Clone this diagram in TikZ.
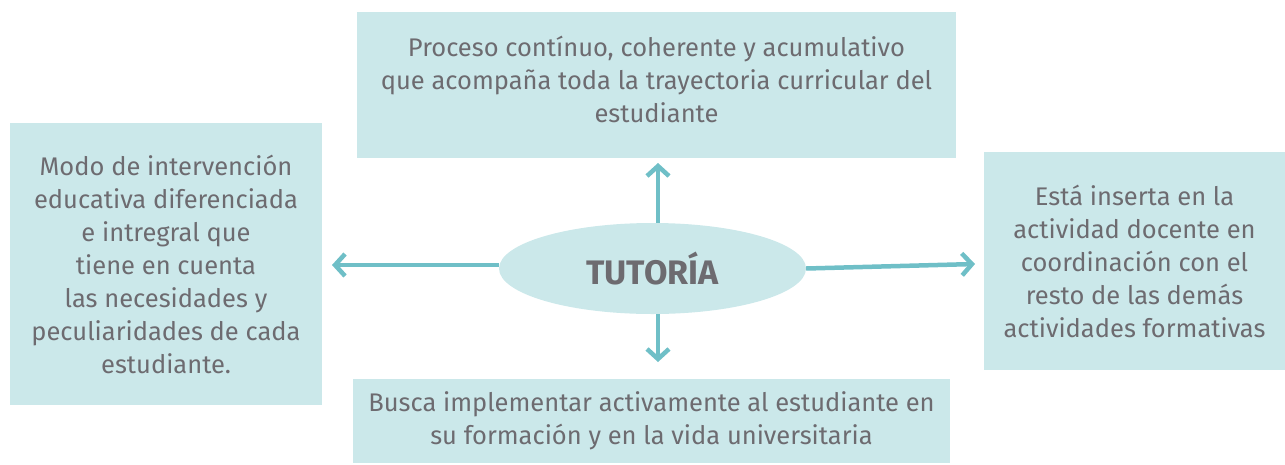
\documentclass[tikz,border=0pt]{standalone}
\usepackage{fontspec}
\setmainfont{Fira Sans}
\usetikzlibrary{arrows.meta,shapes.geometric}
\definecolor{boxfill}{HTML}{CBE8EA}
\definecolor{arrowcol}{HTML}{6FBFC7}
\definecolor{textcol}{HTML}{6D6B70}
\tikzset{
  infobox/.style={fill=boxfill, text=textcol, align=center, inner sep=0pt,
    font=\fontsize{25.5}{33}\selectfont},
  center/.style={ellipse, fill=boxfill, text=textcol, inner sep=0pt,
    minimum width=307pt, minimum height=91pt, font=\fontsize{34}{38}\selectfont\bfseries},
  link/.style={arrowcol, line width=4.5pt, -{Straight Barb[length=10pt,width=22pt]}}
}
\begin{document}
\begin{tikzpicture}[x=1pt,y=-1pt]
    \useasboundingbox (0,0) rectangle (1285,464);
    \node[infobox, minimum width=599pt, minimum height=146pt] (top) at (656.5,85)
        {Proceso contínuo, coherente y acumulativo\\que acompaña toda la trayectoria curricular del\\estudiante\\[-21pt]};
    \node[infobox, minimum width=312pt, minimum height=282pt] (left) at (166,264)
        {Modo de intervención\\educativa diferenciada\\e intregral que\\tiene en cuenta\\las necesidades y\\peculiaridades de cada\\estudiante.};
    \node[infobox, minimum width=301pt, minimum height=218pt] (right) at (1134.5,261)
        {Está inserta en la\\actividad docente en\\coordinación con el\\resto de las demás\\actividades formativas};
    \node[infobox, minimum width=597pt, minimum height=84pt] (bottom) at (651.5,421)
        {Busca implementar activamente al estudiante en\\su formación y en la vida universitaria};
    \node[center] (tut) at (652.5,268.5) {TUTORÍA};
    % arrow ends
    \coordinate (upend) at (658,163);
    \coordinate (downend) at (658,362);
    \coordinate (leftend) at (332,265);
    \coordinate (rightend) at (975,264);
    \draw[link] (tut.north -| upend) -- (upend);
    \draw[link] (tut.south -| downend) -- (downend);
    \draw[link] (tut.west |- leftend) -- (leftend);
    \draw[link] (tut.east) -- (rightend);
\end{tikzpicture}
\end{document}
